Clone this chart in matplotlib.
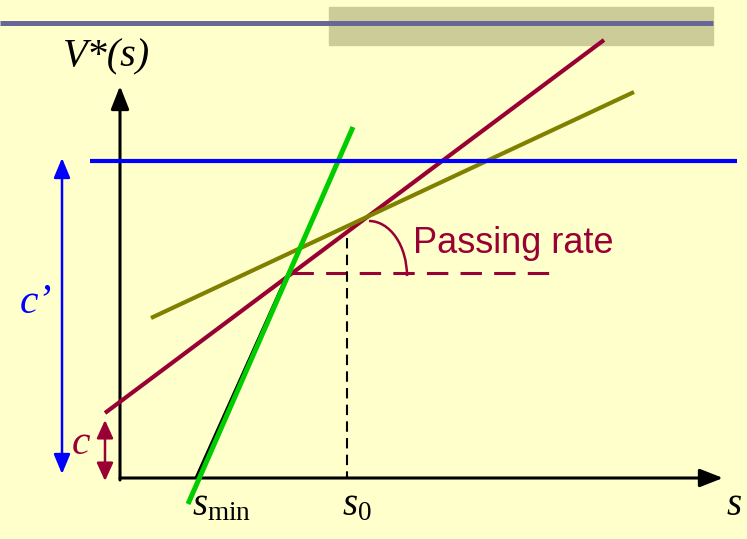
import matplotlib.pyplot as plt
from matplotlib.patches import Rectangle, Arc, FancyArrowPatch

# canvas in pixel units (y grows downwards), origin of the diagram at (120, 478)
bg = '#FFFFCC'
maroon = '#990033'
olive = '#808000'
green = '#00CC00'
blue = '#0000FF'

# lines of the diagram: (x0, y0, x1, y1)
maroon_line = [105, 413, 604, 40]
olive_line = [151, 318, 634, 92]
green_line = [188, 504, 353, 127]
envelope_seg = [196, 478, 285, 280]
blue_line = [90, 161, 737, 161]
rate_dash = [292, 273, 556, 273]
s0_dash = [347, 238, 347, 478]

x_axis = [120, 478, 723, 478]
y_axis = [120, 480, 120, 86]
c_prime_arrow = [62, 158, 62, 474]
c_arrow = [105, 420, 105, 481]

plt.rcParams['mathtext.fontset'] = 'custom'
plt.rcParams['mathtext.rm'] = 'Liberation Serif'
plt.rcParams['mathtext.it'] = 'Liberation Serif:italic'

fig = plt.figure(figsize=(7.47, 5.39), dpi=100, facecolor=bg)
ax = fig.add_axes([0, 0, 1, 1])
ax.set_xlim(0, 747)
ax.set_ylim(539, 0)
ax.axis('off')
ax.set_facecolor(bg)

# header decoration
ax.add_patch(Rectangle((329, 7), 384, 38, color='#CCCC99', zorder=1))
ax.plot([0, 713], [23, 23], color='#666699', lw=3.6, solid_capstyle='butt', zorder=2)


def arrow(seg, color, lw, style, hl, hw):
    p = FancyArrowPatch((seg[0], seg[1]), (seg[2], seg[3]),
                        arrowstyle=f'{style},head_length={hl},head_width={hw}',
                        mutation_scale=1, color=color, lw=lw,
                        shrinkA=0, shrinkB=0, zorder=3)
    ax.add_patch(p)


def line(seg, color, lw, z, **kw):
    ax.plot([seg[0], seg[2]], [seg[1], seg[3]], color=color, lw=lw,
            solid_capstyle='butt', zorder=z, **kw)


# axes
arrow(x_axis, 'black', 2.2, '-|>', 14, 5.5)
arrow(y_axis, 'black', 2.2, '-|>', 14, 5.5)

# measurement arrows
arrow(c_prime_arrow, blue, 1.8, '<|-|>', 12, 5)
arrow(c_arrow, maroon, 1.8, '<|-|>', 11, 5)

# curves
line(envelope_seg, 'black', 2.2, 4)
line(maroon_line, maroon, 3.0, 5)
line(olive_line, olive, 3.0, 6)
line(green_line, green, 3.6, 7)
line(blue_line, blue, 3.0, 8)
line(rate_dash, maroon, 2.2, 5, linestyle=(0, (7, 4)))
line(s0_dash, 'black', 1.5, 5, linestyle=(0, (5, 3)))

# passing-rate angle arc (y axis is inverted, so the upper right quarter is 270..360)
ax.add_patch(Arc((369, 276), 76, 110, theta1=270, theta2=360, color=maroon, lw=1.8, zorder=6))

# labels
ax.text(63, 66, 'V*(s)', fontsize=29, family='Liberation Serif', style='italic', va='baseline')
ax.text(726, 515, '$s$', fontsize=28, va='baseline')
ax.text(342, 515, '$s_0$', fontsize=28, va='baseline')
ax.text(192, 515, r'$s_{\rm min}$', fontsize=28, va='baseline')
ax.text(20, 313, 'c\u2019', fontsize=30, family='Liberation Serif', style='italic',
        color=blue, va='baseline')
ax.text(72, 454, 'c', fontsize=30, family='Liberation Serif', style='italic',
        color=maroon, va='baseline')
ax.text(413, 253, 'Passing rate', fontsize=26, family='Liberation Sans',
        color=maroon, va='baseline')

fig.savefig('out.png', dpi=100, facecolor=bg)
